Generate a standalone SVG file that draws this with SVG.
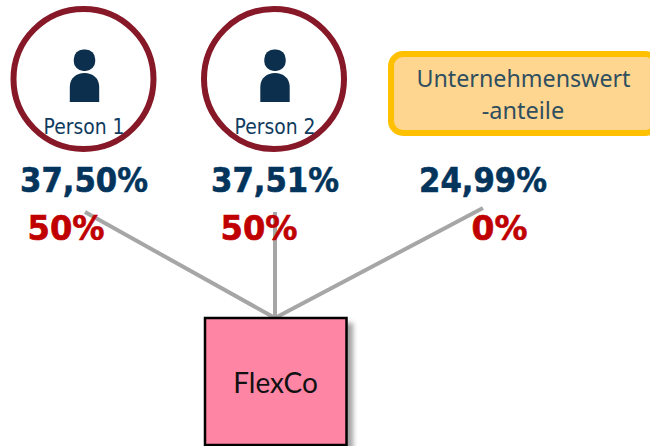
<svg xmlns="http://www.w3.org/2000/svg" width="650" height="446" viewBox="0 0 650 446">
<defs>
<filter id="sh" x="-10%" y="-10%" width="125%" height="125%"><feGaussianBlur stdDeviation="2.5"/></filter>
<g id="icon"><rect x="-10.700" y="-29.500" width="21.400" height="21.400" rx="9.500" class="ic"/><path class="ic" d="M-14.700 23V8C-14.700-1-8-6 0-6S14.700-1 14.700 8V23Z"/></g>
</defs>
<style>
.ic{fill:#0b2f4d}
.ring{fill:#fff;stroke:#861827;stroke-width:6}
.pl{font:21px "DejaVu Sans",sans-serif;fill:#0f3b60;text-anchor:middle}
.pct{font:bold 33px "DejaVu Sans",sans-serif;fill:#03345c;stroke:#03345c;stroke-width:.6;text-anchor:middle}
.red{font:bold 33px "DejaVu Sans",sans-serif;fill:#c00000;stroke:#c00000;stroke-width:.6;text-anchor:middle}
.conn{stroke:#a6a6a6;stroke-width:4;fill:none}
.ut{font:23.500px "Noto Sans",sans-serif;fill:#2f4f60;text-anchor:middle}
</style>
<g id="person1"><circle class="ring" cx="83.500" cy="79" r="70"/><use href="#icon" x="84.500" y="79"/><text class="pl" x="84" y="134" textLength="81" lengthAdjust="spacingAndGlyphs">Person 1</text></g>
<g id="person2"><circle class="ring" cx="274" cy="79" r="70"/><use href="#icon" x="275" y="79"/><text class="pl" x="275" y="134" textLength="81" lengthAdjust="spacingAndGlyphs">Person 2</text></g>
<g id="anteile"><rect x="391" y="54" width="266" height="79" rx="12" fill="#ffd68f" stroke="#ffc000" stroke-width="6"/><text class="ut" x="523.500" y="87" textLength="214" lengthAdjust="spacingAndGlyphs">Unternehmenswert</text><text class="ut" x="523" y="119">-anteile</text></g>
<g id="connectors"><line class="conn" x1="85" y1="212" x2="275" y2="318"/><line class="conn" x1="275" y1="212" x2="275" y2="318"/><line class="conn" x1="483" y1="208" x2="275" y2="318"/></g>
<g id="labels">
<text class="pct" x="84" y="191.500" textLength="128" lengthAdjust="spacingAndGlyphs">37,50%</text>
<text class="pct" x="275" y="191.500" textLength="128" lengthAdjust="spacingAndGlyphs">37,51%</text>
<text class="pct" x="483" y="191.500" textLength="128" lengthAdjust="spacingAndGlyphs">24,99%</text>
<text class="red" x="66" y="240" textLength="77" lengthAdjust="spacingAndGlyphs">50%</text>
<text class="red" x="259" y="240" textLength="77" lengthAdjust="spacingAndGlyphs">50%</text>
<text class="red" x="499.500" y="240" textLength="56" lengthAdjust="spacingAndGlyphs">0%</text>
</g>
<g id="flexco"><rect x="210" y="323" width="143" height="128" fill="#555" opacity=".55" filter="url(#sh)"/><rect x="205" y="318" width="141.500" height="127" fill="#ff85a5" stroke="#000" stroke-width="2.500"/><text x="275.500" y="392.500" font-family="Lato,sans-serif" font-size="28" fill="#111" text-anchor="middle">FlexCo</text></g>
</svg>
